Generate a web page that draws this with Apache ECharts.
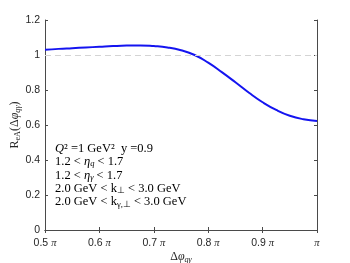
<!DOCTYPE html>
<html>
<head>
<meta charset="utf-8">
<script src="https://cdn.jsdelivr.net/npm/echarts@6/dist/echarts.min.js"></script>
<style>html,body{margin:0;padding:0;background:#fff}#c{width:350px;height:263px}</style>
</head>
<body>
<div id="c"></div>
<script>
// Δφ in units of π
const phi = [0.50,0.525,0.55,0.575,0.60,0.625,0.65,0.675,0.70,0.725,0.75,0.775,0.80,0.825,0.85,0.875,0.90,0.925,0.95,0.975,1.00];
const rEA = [1.030,1.035,1.039,1.043,1.047,1.051,1.054,1.055,1.051,1.043,1.027,1.000,0.956,0.902,0.844,0.784,0.730,0.686,0.653,0.633,0.623];
const xTicks = [0.5,0.6,0.7,0.8,0.9,1.0];
const yTicks = [0,0.2,0.4,0.6,0.8,1,1.2];
const refLevel = 1;

const chart = echarts.init(document.getElementById('c'));
const axisCol = '#4a4a4a';
const txtCol = '#262626';
const serif = 'Liberation Serif';
const sans = 'Liberation Sans';

function richSet(fs, lh) {
  const sfs = Math.round(fs * 0.68 * 10) / 10;
  return {
    m: {fontFamily: serif, fontSize: fs, color: txtCol, lineHeight: lh},
    i: {fontFamily: serif, fontSize: fs, fontStyle: 'italic', color: txtCol, lineHeight: lh},
    s: {fontFamily: serif, fontSize: sfs, color: txtCol, lineHeight: sfs + 2, verticalAlign: 'bottom'},
    si: {fontFamily: serif, fontSize: sfs, fontStyle: 'italic', color: txtCol, lineHeight: sfs + 2, verticalAlign: 'bottom'}
  };
}

chart.setOption({
  animation: false,
  grid: {left: 45, right: 33, top: 20, bottom: 33, outerBoundsMode: 'none', containLabel: false},
  xAxis: [{
    type: 'value', min: 0.5, max: 1.0, interval: 0.1,
    axisLine: {lineStyle: {color: axisCol, width: 1}},
    axisTick: {inside: true, length: 3, lineStyle: {color: axisCol}},
    splitLine: {show: false},
    axisLabel: {
      margin: 8,
      formatter: v => Math.abs(v - 1) < 1e-6 ? '{p|π}' : (v.toFixed(1) + ' {p|π}'),
      color: txtCol, fontFamily: sans, fontSize: 10.5,
      rich: {p: {fontFamily: serif, fontStyle: 'italic', fontSize: 10.5, color: txtCol}}
    },
    name: '{m|Δ}{i|φ}{si|qγ}', nameLocation: 'middle', nameGap: 20, nameMoveOverlap: false,
    nameTextStyle: {rich: richSet(12, 14)}
  }, {
    type: 'value', min: 0.5, max: 1.0, interval: 0.1, position: 'top',
    axisLine: {show: true, lineStyle: {color: axisCol, width: 1}},
    axisTick: {show: true, inside: true, length: 3, lineStyle: {color: axisCol}},
    axisLabel: {show: false}, splitLine: {show: false}
  }],
  yAxis: [{
    type: 'value', min: 0, max: 1.2, interval: 0.2,
    axisLine: {show: true, lineStyle: {color: axisCol, width: 1}},
    axisTick: {show: true, inside: true, length: 3, lineStyle: {color: axisCol}},
    splitLine: {show: false},
    axisLabel: {color: txtCol, fontFamily: sans, fontSize: 10.5, margin: 5,
      formatter: v => String(Math.round(v * 10) / 10)},
    name: '{m|R}{s|eA}{m|(Δ}{i|φ}{si|qγ}{m|)}', nameLocation: 'middle', nameGap: 23, nameRotate: 90, nameMoveOverlap: false,
    nameTextStyle: {rich: richSet(12, 14)}
  }, {
    type: 'value', min: 0, max: 1.2, interval: 0.2, position: 'right',
    axisLine: {show: true, lineStyle: {color: axisCol, width: 1}},
    axisTick: {show: true, inside: true, length: 3, lineStyle: {color: axisCol}},
    axisLabel: {show: false}, splitLine: {show: false}
  }],
  series: [{
    type: 'line', xAxisIndex: 0, yAxisIndex: 0,
    data: phi.map((x, k) => [x, rEA[k]]),
    smooth: 0.5, showSymbol: false,
    lineStyle: {color: '#1414f0', width: 2},
    z: 3,
    markLine: {
      silent: true, symbol: 'none', label: {show: false},
      lineStyle: {color: '#d4d4d4', type: [6, 4], width: 1},
      data: [{yAxis: refLevel}]
    }
  }],
  graphic: [{
    type: 'text', left: 55, top: 142,
    style: {
      text: [
        '{i|Q}{m|² =1 GeV²  y =0.9}',
        '{m|1.2 < }{i|η}{si|q}{m| < 1.7}',
        '{m|1.2 < }{i|η}{si|γ}{m| < 1.7}',
        '{m|2.0 GeV < k}{s|⊥}{m| < 3.0 GeV}',
        '{m|2.0 GeV < k}{s|γ,⊥}{m| < 3.0 GeV}'
      ].join('\n'),
      rich: richSet(12.5, 13.4)
    }
  }]
});
</script>
</body>
</html>
